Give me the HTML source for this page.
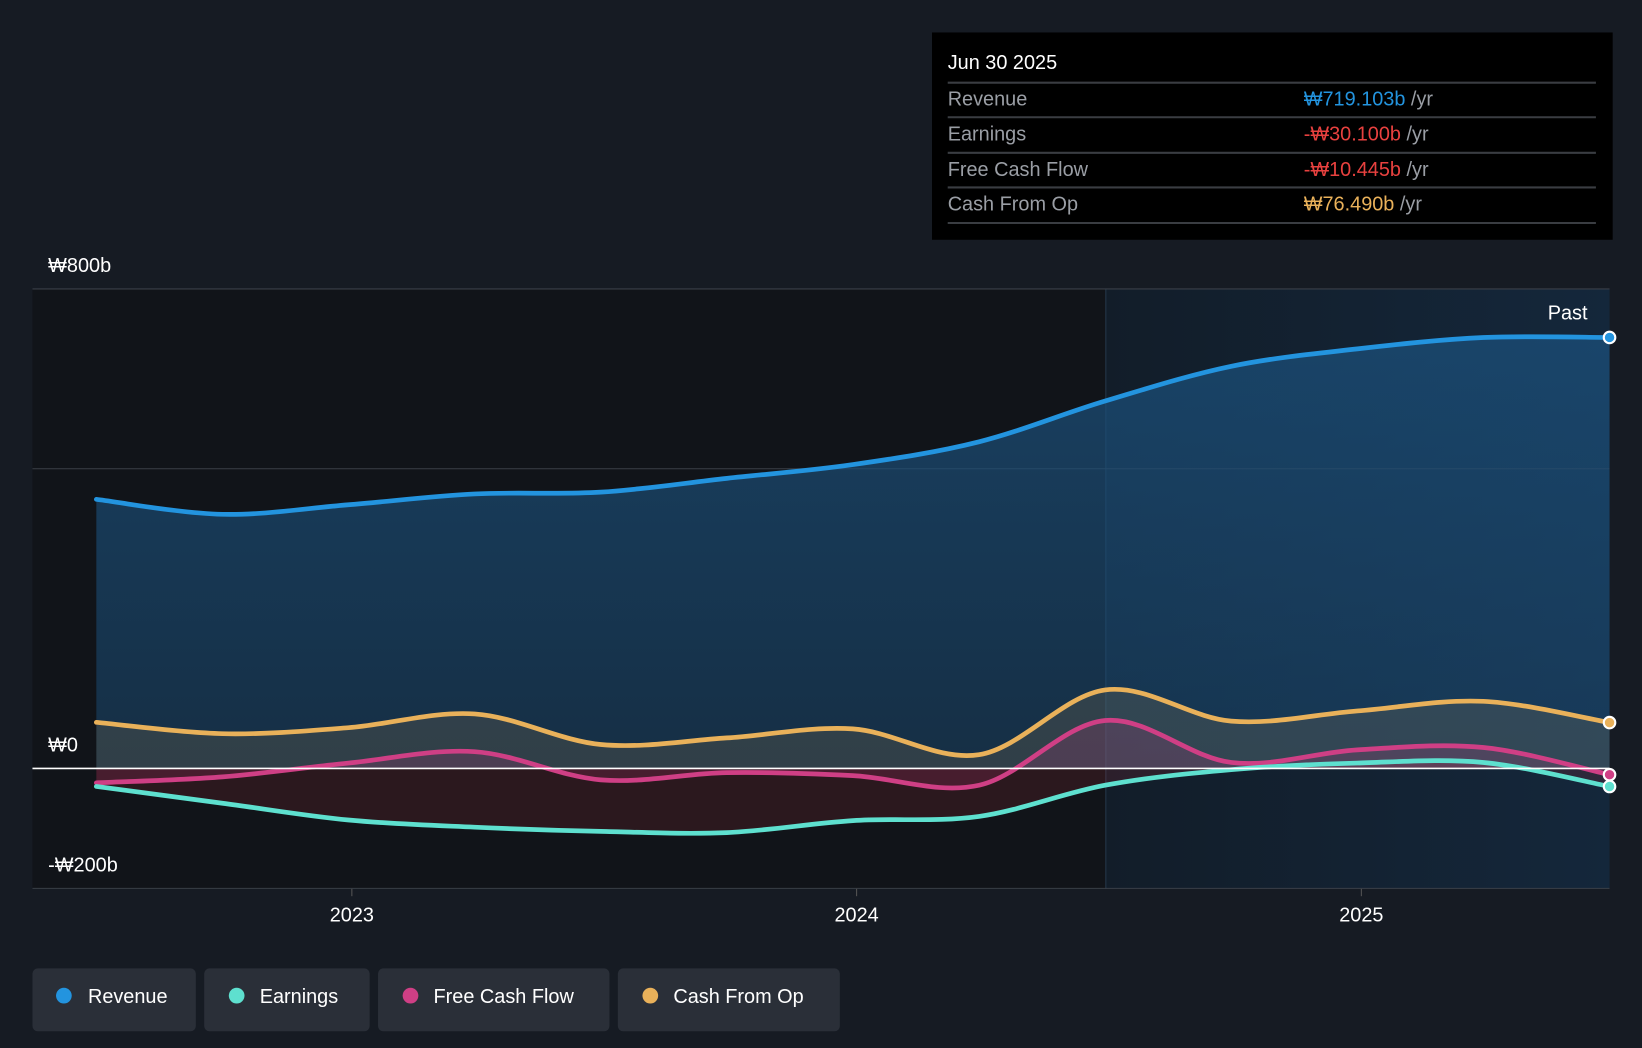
<!DOCTYPE html>
<html><head><meta charset="utf-8"><style>
html,body{margin:0;padding:0;background:#161b23;}
svg{display:block;font-family:"Liberation Sans",sans-serif;}
</style></head><body>
<svg id="chart" width="1642" height="1048" viewBox="0 0 1568 1001" preserveAspectRatio="none" xmlns="http://www.w3.org/2000/svg">
<defs>
<linearGradient id="revFill" x1="0" y1="0" x2="0" y2="1"><stop offset="0" stop-color="#1b4f7a" stop-opacity="0.75"/><stop offset="1" stop-color="#1b4f7a" stop-opacity="0.45"/></linearGradient>
<linearGradient id="pastBg" x1="0" y1="0" x2="1" y2="0"><stop offset="0" stop-color="#121d29"/><stop offset="1" stop-color="#14273b"/></linearGradient>
</defs>
<rect x="0" y="0" width="1568" height="1001" fill="#161b23"/>
<rect x="31" y="276" width="1025" height="573" fill="#111419"/>
<rect x="1056" y="276" width="481" height="573" fill="url(#pastBg)"/>
<line x1="1056" y1="276" x2="1056" y2="849" stroke="#25384b" stroke-width="1"/>
<g id="grid"></g>
<g id="areas"></g>
<g id="lines"></g>
<g id="dots"></g>
<line x1="31" y1="734" x2="1537" y2="734" stroke="#ffffff" stroke-width="1.5"/>
<text x="1478" y="305" fill="#fff" font-size="19">Past</text>
<g id="ylabels"></g>
<g id="xlabels"></g>

<g>
<rect x="890" y="31" width="650" height="198" fill="#000"/>
<text x="905" y="66" fill="#fff" font-size="19">Jun 30 2025</text>
<line x1="905" y1="79" x2="1524" y2="79" stroke="#3a3d42" stroke-width="2"/>
<text x="905" y="101" fill="#9a9ea5" font-size="19">Revenue</text>
<text x="1245" y="101" font-size="19"><tspan fill="#2394df">₩719.103b</tspan><tspan fill="#9a9ea5"> /yr</tspan></text>
<line x1="905" y1="112" x2="1524" y2="112" stroke="#3a3d42" stroke-width="2"/>
<text x="905" y="134" fill="#9a9ea5" font-size="19">Earnings</text>
<text x="1245" y="134" font-size="19"><tspan fill="#e8413f">-₩30.100b</tspan><tspan fill="#9a9ea5"> /yr</tspan></text>
<line x1="905" y1="146" x2="1524" y2="146" stroke="#3a3d42" stroke-width="2"/>
<text x="905" y="168" fill="#9a9ea5" font-size="19">Free Cash Flow</text>
<text x="1245" y="168" font-size="19"><tspan fill="#e8413f">-₩10.445b</tspan><tspan fill="#9a9ea5"> /yr</tspan></text>
<line x1="905" y1="179" x2="1524" y2="179" stroke="#3a3d42" stroke-width="2"/>
<text x="905" y="201" fill="#9a9ea5" font-size="19">Cash From Op</text>
<text x="1245" y="201" font-size="19"><tspan fill="#e9b15a">₩76.490b</tspan><tspan fill="#9a9ea5"> /yr</tspan></text>
<line x1="905" y1="213" x2="1524" y2="213" stroke="#3a3d42" stroke-width="2"/>
</g>

<g>
<g><rect x="31" y="925" width="156" height="60" rx="5" fill="#2a2f38"/><circle cx="61" cy="951" r="7.5" fill="#2394df"/><text x="84" y="958" fill="#fff" font-size="19">Revenue</text></g>
<g><rect x="195" y="925" width="158" height="60" rx="5" fill="#2a2f38"/><circle cx="226" cy="951" r="7.5" fill="#5ee0cf"/><text x="248" y="958" fill="#fff" font-size="19">Earnings</text></g>
<g><rect x="361" y="925" width="221" height="60" rx="5" fill="#2a2f38"/><circle cx="392" cy="951" r="7.5" fill="#cf3f85"/><text x="414" y="958" fill="#fff" font-size="19">Free Cash Flow</text></g>
<g><rect x="590" y="925" width="212" height="60" rx="5" fill="#2a2f38"/><circle cx="621" cy="951" r="7.5" fill="#e9b15a"/><text x="643" y="958" fill="#fff" font-size="19">Cash From Op</text></g>
</g>
</svg>
<script>
const periods = ["2022-06","2022-09","2022-12","2023-03","2023-06","2023-09","2023-12","2024-03","2024-06","2024-09","2024-12","2025-03","2025-06"];
const revenue = [449,424,440,458,461,484,507,545,613,671,700,719,719.1];
const earnings = [-30,-58,-86,-98,-105,-107,-87,-80,-28,-2,9,10,-30.1];
const fcf = [-24,-14,9,28,-19,-7,-12,-28,80,10,31,35,-10.4];
const cfo = [77,58,68,91,40,51,66,23,131,79,96,112,76.5];
const yTickValues = [800,0,-200];
const yTickLabels = ["₩800b","₩0","-₩200b"];
const gridValues = [800,500,-200];
const xTickYears = [2023,2024,2025];

const NS="http://www.w3.org/2000/svg";
const X0=92,X1=1537;
function xScale(i){return X0+i*(X1-X0)/(periods.length-1);}
function yScale(v){return 734-v*0.5725;}
function yearX(y){return 336+(y-2023)*482;}
function mk(tag,attrs,parent){const e=document.createElementNS(NS,tag);for(const k in attrs)e.setAttribute(k,attrs[k]);parent.appendChild(e);return e;}
function pathD(vals){
  const p=vals.map((v,i)=>[xScale(i),yScale(v)]);
  let d="M"+p[0][0]+","+p[0][1];
  for(let i=0;i<p.length-1;i++){
    const p0=p[Math.max(0,i-1)],p1=p[i],p2=p[i+1],p3=p[Math.min(p.length-1,i+2)];
    const c1x=p1[0]+(p2[0]-p0[0])/6,c1y=p1[1]+(p2[1]-p0[1])/6;
    const c2x=p2[0]-(p3[0]-p1[0])/6,c2y=p2[1]-(p3[1]-p1[1])/6;
    d+=` C${c1x},${c1y} ${c2x},${c2y} ${p2[0]},${p2[1]}`;
  }
  return d;
}
const grid=document.getElementById('grid');
gridValues.forEach(v=>{const l=mk('line',{x1:31,x2:1537,y1:yScale(v),y2:yScale(v),stroke:'#3a3f47','stroke-width':1},grid);

});
const yl=document.getElementById('ylabels');
yTickValues.forEach((v,i)=>{const t=mk('text',{x:46,y:yScale(v)-16,fill:'#fff','font-size':19},yl);t.textContent=yTickLabels[i];

});
const xl=document.getElementById('xlabels');
xTickYears.forEach(y=>{mk('line',{x1:yearX(y),x2:yearX(y),y1:849,y2:856,stroke:'#555'},xl);
const t=mk('text',{x:yearX(y),y:880,fill:'#fff','font-size':19,'text-anchor':'middle'},xl);t.textContent=y;

});
const series=[
 {name:'revenue',vals:revenue,color:'#2394df',fill:'url(#revFill)',fo:1},
 {name:'cash-from-op',vals:cfo,color:'#e9b15a',fill:'#e9b15a',fo:0.13},
 {name:'free-cash-flow',vals:fcf,color:'#cf3f85',fill:'#cf3f85',fo:0.18},
 {name:'earnings',vals:earnings,color:'#5ee0cf',fill:'#c0303a',fo:0.15}
];
const areas=document.getElementById('areas'),lines=document.getElementById('lines'),dots=document.getElementById('dots');
series.forEach(s=>{
  const d=pathD(s.vals);
  const a=mk('path',{d:d+` L${X1},${yScale(0)} L${X0},${yScale(0)} Z`,fill:s.fill,'fill-opacity':s.fo},areas);
  
  
  const l=mk('path',{d:d,fill:'none',stroke:s.color,'stroke-width':4.5,'stroke-linecap':'round'},lines);
  
  
  const n=s.vals.length-1;
  const c=mk('circle',{cx:xScale(n),cy:yScale(s.vals[n]),r:5.5,fill:s.color,stroke:'#fff','stroke-width':2},dots);
  
  
});
</script>
</body></html>
